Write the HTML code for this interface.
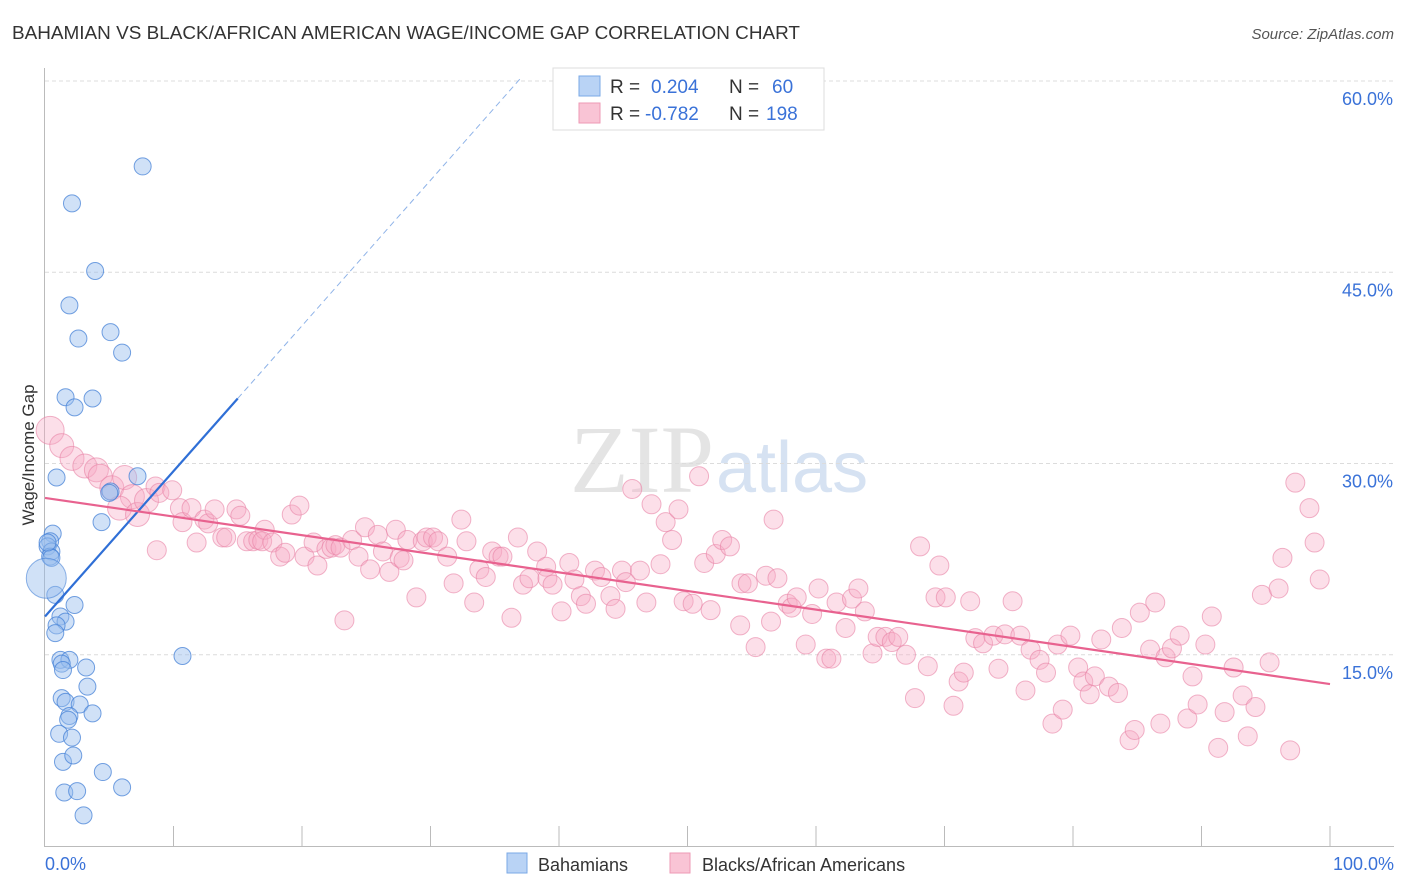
<!DOCTYPE html>
<html><head><meta charset="utf-8">
<style>
body{margin:0;background:#fff;font-family:"Liberation Sans",sans-serif;}
#wrap{position:relative;width:1406px;height:892px;overflow:hidden;}
svg{position:absolute;left:0;top:0;}
</style></head>
<body><div id="wrap">
<svg id="svg" width="1406" height="892">
<text x="12" y="39" font-size="18" fill="#333" textLength="788" lengthAdjust="spacingAndGlyphs">BAHAMIAN VS BLACK/AFRICAN AMERICAN WAGE/INCOME GAP CORRELATION CHART</text>
<text x="1394" y="39" font-size="15" fill="#555" font-style="italic" text-anchor="end">Source: ZipAtlas.com</text>
<text x="714" y="492" font-size="96" fill="#e4e4e4" text-anchor="end" font-family="Liberation Serif,serif">ZIP</text>
<text x="716" y="492" font-size="72" fill="#d6e2f2">atlas</text>
<text transform="translate(34,455) rotate(-90)" font-size="17" fill="#333" text-anchor="middle">Wage/Income Gap</text>
<g id="grid"></g><g id="marks"></g><g id="lines"></g>
<g>
<rect x="553" y="68" width="271" height="62" fill="#fff" stroke="#ddd"/>
<rect x="579" y="76" width="21" height="20" fill="#b9d3f5" stroke="#7aa8e6"/>
<rect x="579" y="103" width="21" height="20" fill="#f9c4d5" stroke="#ee9ab5"/>
<text x="610" y="93" font-size="19" fill="#333">R = </text><text x="651" y="93" font-size="19" fill="#3a72d8">0.204</text>
<text x="729" y="93" font-size="19" fill="#333">N = </text><text x="772" y="93" font-size="19" fill="#3a72d8">60</text>
<text x="610" y="120" font-size="19" fill="#333">R = </text><text x="645" y="120" font-size="19" fill="#3a72d8">-0.782</text>
<text x="729" y="120" font-size="19" fill="#333">N = </text><text x="766" y="120" font-size="19" fill="#3a72d8">198</text>
</g>
<g>
<rect x="507" y="853" width="20" height="20" fill="#b9d3f5" stroke="#7aa8e6"/>
<text x="538" y="871" font-size="18" fill="#333">Bahamians</text>
<text x="702" y="871" font-size="18" fill="#333">Blacks/African Americans</text>
<rect x="670" y="853" width="20" height="20" fill="#f9c4d5" stroke="#ee9ab5"/>
</g>
</svg></div>
<script>
const yTicks=[15,30,45,60];
const yTickLabels=["15.0%","30.0%","45.0%","60.0%"];
const xEndLabels=["0.0%","100.0%"];
const blueX=[7.6,2.1,3.9,1.9,2.6,5.1,6.0,1.6,3.7,2.3,0.9,7.2,5.1,4.4,0.6,0.4,0.2,0.5,0.4,0.5,0.8,2.3,1.2,1.6,0.9,0.8,10.7,1.2,1.9,1.3,1.4,3.2,3.3,1.3,1.6,2.7,3.7,1.9,1.8,1.1,2.1,1.4,2.2,4.5,1.5,2.5,6.0,3.0,0.2,5.0];
const blueY=[53.3,50.4,45.1,42.4,39.8,40.3,38.7,35.2,35.1,34.4,28.9,29.0,27.8,25.4,24.5,23.9,23.5,23.1,22.7,22.6,19.7,18.9,18.0,17.6,17.3,16.7,14.9,14.6,14.6,14.3,13.8,14.0,12.5,11.6,11.3,11.1,10.4,10.2,9.9,8.8,8.5,6.6,7.1,5.8,4.2,4.3,4.6,2.4,23.8,27.7];
const pinkX=[0.4,1.3,2.1,3.1,4.0,4.3,5.2,6.2,6.8,5.8,7.2,7.9,8.6,8.9,9.9,8.7,10.5,10.7,11.4,11.8,12.4,12.7,13.2,13.8,14.1,14.9,15.2,15.7,16.2,16.6,17.1,16.9,17.7,18.3,18.7,19.2,19.8,20.2,20.9,21.2,21.9,22.3,22.6,23.0,23.3,23.9,24.4,24.9,25.3,25.9,26.3,26.8,27.3,27.6,27.9,28.2,28.9,29.4,29.7,30.2,30.6,31.3,31.8,32.4,32.8,33.4,33.8,34.3,34.8,35.3,35.6,36.3,36.8,37.2,37.7,38.3,39.0,39.1,39.5,40.2,40.8,41.2,41.7,42.1,42.8,43.3,44.0,44.4,44.9,45.2,45.7,46.3,46.8,47.2,47.9,48.3,48.8,49.3,49.7,50.4,50.9,51.3,51.8,52.2,52.7,53.3,54.1,54.2,54.7,55.3,56.1,56.5,56.7,57.0,57.8,58.1,58.5,59.2,59.7,60.2,60.8,61.2,61.6,62.3,62.8,63.3,63.8,64.4,64.8,65.4,65.9,66.4,67.0,67.7,68.1,68.7,69.3,69.6,70.1,70.7,71.1,71.5,72.0,72.4,73.0,73.8,74.2,74.7,75.3,75.9,76.3,76.7,77.4,77.9,78.4,78.8,79.2,79.8,80.4,80.8,81.3,81.7,82.2,82.8,83.5,83.8,84.4,84.8,85.2,86.0,86.4,86.8,87.2,87.7,88.3,88.9,89.3,89.7,90.3,90.8,91.3,91.8,92.5,93.2,93.6,94.2,94.7,95.3,96.0,96.3,96.9,97.3,98.4,98.8,99.2];
const pinkY=[32.6,31.4,30.4,29.8,29.5,29.0,28.1,28.9,27.4,26.5,26.0,27.1,28.2,27.7,27.9,23.2,26.5,25.4,26.5,23.8,25.6,25.3,26.4,24.2,24.2,26.4,25.9,23.9,23.9,24.0,24.8,23.9,23.8,22.7,23.0,26.0,26.7,22.7,23.8,22.0,23.3,23.4,23.6,23.4,17.7,24.0,22.7,25.0,21.7,24.4,23.1,21.5,24.8,22.6,22.4,24.0,19.5,23.9,24.2,24.2,23.9,22.7,20.6,25.6,23.9,19.1,21.7,21.1,23.1,22.7,22.7,17.9,24.2,20.5,21.0,23.1,21.9,21.0,20.5,18.4,22.2,20.9,19.6,19.0,21.6,21.1,19.6,18.6,21.6,20.7,28.0,21.6,19.1,26.8,22.1,25.4,24.0,26.4,19.2,19.0,29.0,22.2,18.5,22.9,24.0,23.5,17.3,20.6,20.6,15.6,21.2,17.6,25.6,21.0,19.0,18.7,19.5,15.8,18.2,20.2,14.7,14.7,19.1,17.1,19.4,20.2,18.4,15.1,16.4,16.4,16.0,16.4,15.0,11.6,23.5,14.1,19.5,22.0,19.5,11.0,12.9,13.6,19.2,16.3,15.9,16.5,13.9,16.6,19.2,16.5,12.2,15.4,14.6,13.6,9.6,15.8,10.7,16.5,14.0,12.9,11.9,13.3,16.2,12.5,12.0,17.1,8.3,9.1,18.3,15.4,19.1,9.6,14.8,15.5,16.5,10.0,13.3,11.1,15.8,18.0,7.7,10.5,14.0,11.8,8.6,10.9,19.7,14.4,20.2,22.6,7.5,28.5,26.5,23.8,20.9];
const blueTrend=[[0,18.0],[15,35.1],[37,60.2]];
const pinkTrend=[[0,27.3],[100,12.7]];
const NS="http://www.w3.org/2000/svg";
const X0=45,X1=1330,YB=846,YPER=12.75;
function xs(v){return X0+(X1-X0)*v/100;}
function ys(v){return YB-YPER*v;}
function mk(tag,attrs,parent){const e=document.createElementNS(NS,tag);for(const k in attrs)e.setAttribute(k,attrs[k]);parent.appendChild(e);return e;}
const grid=document.getElementById('grid'),marks=document.getElementById('marks'),lines=document.getElementById('lines');
yTicks.forEach((t,i)=>{
 const l=mk('line',{x1:45,x2:1394,y1:ys(t),y2:ys(t),stroke:'#dcdcdc','stroke-dasharray':'4,3'},grid);
 
 
 const tx=mk('text',{x:1393,y:ys(t)+24,'font-size':18,fill:'#3a72d8','text-anchor':'end'},grid);tx.textContent=yTickLabels[i];
 
 
});
let ax=mk('line',{x1:44.5,x2:44.5,y1:68,y2:846,stroke:'#bbb'},grid);


let bx=mk('line',{x1:44,x2:1394,y1:846.5,y2:846.5,stroke:'#bbb'},grid);


for(let i=1;i<=10;i++){const t=mk('line',{x1:xs(i*10),x2:xs(i*10),y1:826,y2:846,stroke:'#bbb'},grid);
 
 }
const xl0=mk('text',{x:45,y:870,'font-size':18,fill:'#3a72d8'},grid);xl0.textContent=xEndLabels[0];


const xl1=mk('text',{x:1394,y:870,'font-size':18,fill:'#3a72d8','text-anchor':'end'},grid);xl1.textContent=xEndLabels[1];


pinkX.forEach((x,i)=>{const r=i===0?14:(x<8?12:9.5);
 const c=mk('circle',{cx:xs(x),cy:ys(pinkY[i]),r:r,fill:'rgba(246,172,198,0.38)',stroke:'rgba(232,130,165,0.6)','stroke-width':1},marks);
 
 });
blueX.forEach((x,i)=>{
 const c=mk('circle',{cx:xs(x),cy:ys(blueY[i]),r:8.5,fill:'rgba(150,188,238,0.45)',stroke:'rgba(70,130,215,0.75)','stroke-width':1},marks);
 
 });
const bigB=mk('circle',{cx:xs(0.1),cy:ys(21.0),r:20,fill:'rgba(150,188,238,0.45)',stroke:'rgba(70,130,215,0.6)'},marks);


const bl=mk('line',{x1:xs(blueTrend[0][0]),y1:ys(blueTrend[0][1]),x2:xs(blueTrend[1][0]),y2:ys(blueTrend[1][1]),stroke:'#2f6fd6','stroke-width':2.2},lines);


const bd=mk('line',{x1:xs(blueTrend[1][0]),y1:ys(blueTrend[1][1]),x2:xs(blueTrend[2][0]),y2:ys(blueTrend[2][1]),stroke:'#8fb3e8','stroke-width':1,'stroke-dasharray':'6,4'},lines);


const pl=mk('line',{x1:xs(pinkTrend[0][0]),y1:ys(pinkTrend[0][1]),x2:xs(pinkTrend[1][0]),y2:ys(pinkTrend[1][1]),stroke:'#e8628f','stroke-width':2.2},lines);


</script>
</body></html>
